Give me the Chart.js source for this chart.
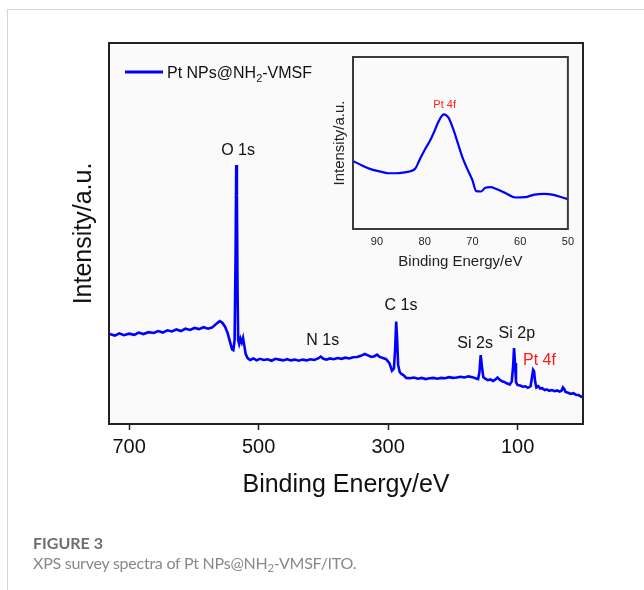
<!DOCTYPE html>
<html>
<head>
<meta charset="utf-8">
<script src="https://cdn.jsdelivr.net/npm/chart.js@4.4.1/dist/chart.umd.min.js"></script>
<style>
  body { margin: 0; background: #fff; width: 644px; height: 590px; overflow: hidden; position: relative; }
  #frame { position: absolute; left: 7px; top: 9px; width: 640px; height: 590px;
           border-top: 1.5px solid #d6d6d6; border-left: 1.5px solid #d6d6d6; }
  #main { position: absolute; left: 0; top: 0; }
  #inset { position: absolute; left: 320px; top: 50px; }
  #caption { position: absolute; left: 33px; top: 533px; font-family: Lato, "Open Sans", sans-serif;
             font-size: 16px; letter-spacing: -0.25px; line-height: 20px; color: #888; }
  #caption b { color: #6e6e6e; font-weight: 700; letter-spacing: 0; }
  #caption sub { font-size: 0.7em; vertical-align: -0.25em; line-height: 0; }
</style>
</head>
<body>
<div id="frame"></div>
<canvas id="main" width="644" height="590"></canvas>
<canvas id="inset" width="260" height="230"></canvas>
<div id="caption"><b>FIGURE 3</b><br>XPS survey spectra of Pt NPs@NH<sub>2</sub>-VMSF/ITO.</div>
<script>
// survey spectrum (binding energy in eV, intensity in a.u.)
const surveyEnergy = [
  730, 722, 715, 708, 700, 692, 685, 678, 670, 662, 655, 648, 641, 634, 627, 620, 613, 606, 599, 592,
  585, 578, 572, 566, 560, 556, 552, 548, 544, 541, 539, 537, 535.5, 534.5, 533.5, 532.5, 531.5, 530,
  528, 526, 524, 522, 520, 517, 513, 508, 503, 498, 492, 486, 480, 474, 468, 462, 456, 450, 444, 438,
  432, 426, 420, 414, 408, 404, 400, 395, 390, 384, 378, 372, 366, 360, 354, 348, 342, 336, 331, 326,
  321, 317, 313, 308, 303, 298, 294, 291, 289, 287.5, 286, 284.5, 282, 279, 276, 272, 266, 260, 254,
  248, 242, 236, 230, 224, 218, 212, 206, 200, 194, 188, 182, 176, 170, 165, 161, 159, 157, 155, 153,
  150, 146, 142, 138, 134, 131, 128, 124, 120, 116, 112, 109, 107, 105.5, 104, 102.5, 100, 96, 92, 88,
  84, 80, 78, 76, 74.5, 73, 71, 68, 65, 62, 58, 55, 51, 47, 43, 39, 35, 32, 30, 28, 26, 22, 18, 14,
  10, 6, 2, 0
];
const surveyIntensity = [
  23.6, 23.2, 23.8, 23.3, 23.7, 23.4, 24.0, 23.6, 24.1, 23.9, 24.4, 24.0, 24.6, 24.3, 24.8, 24.4, 25.0, 24.7, 25.2, 24.9,
  25.4, 25.0, 25.3, 26.2, 27.0, 26.6, 25.6, 24.0, 21.5, 19.6, 19.4, 22.0, 45.0, 68.0, 60.0, 35.0, 22.0, 21.0,
  22.4, 21.4, 22.6, 20.5, 18.4, 17.3, 16.8, 17.2, 16.7, 17.1, 16.8, 17.0, 16.6, 17.1, 16.9, 16.7, 17.0, 16.7, 16.9, 16.6,
  16.9, 16.7, 17.0, 16.8, 17.2, 17.7, 17.1, 16.9, 17.2, 17.0, 17.3, 17.1, 17.4, 17.2, 17.5, 17.6, 17.9, 18.4, 18.0, 17.6,
  17.8, 18.2, 17.6, 17.3, 17.0, 16.0, 14.0, 14.6, 20.0, 26.9, 22.0, 15.5, 13.6, 13.1, 12.8, 12.1, 12.0, 12.2, 11.9,
  12.1, 11.8, 12.0, 12.1, 11.9, 12.1, 12.0, 12.3, 12.1, 12.2, 12.4, 12.2, 12.5, 12.3, 12.0, 11.8, 13.5, 18.1, 15.0, 12.3,
  11.9, 11.5, 11.7, 11.3, 11.7, 12.2, 11.7, 11.2, 11.0, 10.6, 10.4, 11.2, 15.0, 19.9, 16.0, 11.0, 10.2, 10.1, 9.8, 9.9,
  9.5, 9.9, 12.0, 14.2, 13.8, 11.2, 9.6, 9.9, 9.3, 9.4, 8.9, 9.1, 8.7, 8.9, 8.6, 8.8, 8.5, 8.8, 9.6, 9.2, 8.4, 8.2, 7.9, 8.1,
  7.7, 7.6, 7.2, 7.1
];
const xTicks = [700, 500, 300, 100];

// peak labels (energy, intensity where the label sits)
const peakNames = ['O 1s', 'N 1s', 'C 1s', 'Si 2s', 'Si 2p', 'Pt 4f'];
const peakLabelEnergy = [531.7, 400.9, 280, 165.6, 101.2, 66.3];
const peakLabelIntensity = [71.7, 21.8, 31.0, 21.2, 23.8, 16.6];

// Pt 4f high resolution (inset)
const insetEnergy = [
  95, 93, 91, 89, 87.5, 86, 84.5, 83, 82, 81, 80, 78.8, 78, 77, 76, 75, 74, 73, 72, 71, 70,
  69.2, 68.2, 67.3, 66.2, 65, 63, 61, 59, 57, 55, 53, 51, 50
];
const insetIntensity = [
  39.5, 36.8, 34.5, 33.2, 32.4, 32.4, 32.8, 33.6, 35.0, 40.5, 45.9, 51.7, 56.5, 63.0, 66.7, 64.7, 58.0, 49.5, 41.0, 34.5, 28.5,
  22.0, 21.8, 24.0, 24.3, 23.3, 20.8, 18.3, 18.5, 20.0, 20.4, 19.8, 18.2, 17.4
];
const insetTicks = [90, 80, 70, 60, 50];
const insetLabelNames = ['Pt 4f'];
const insetLabelEnergy = [75.8];
const insetLabelIntensity = [72.1];

const FONT = "'Liberation Sans', Arial, sans-serif";
Chart.defaults.font.family = FONT;

// 背景と枠
function framePlugin(lineWidth, color) {
  return {
    id: 'frame',
    beforeDraw(chart) {
      const { ctx, chartArea: a } = chart;
      ctx.save();
      ctx.fillStyle = '#fafafa';
      ctx.fillRect(a.left, a.top, a.right - a.left, a.bottom - a.top);
      ctx.restore();
    },
    afterDatasetsDraw(chart) {
      const { ctx, chartArea: a } = chart;
      ctx.save();
      ctx.strokeStyle = color;
      ctx.lineWidth = lineWidth;
      ctx.strokeRect(a.left, a.top, a.right - a.left, a.bottom - a.top);
      ctx.restore();
    }
  };
}

// ピークラベル
function labelPlugin(names, energies, intensities, size) {
  return {
    id: 'peakLabels',
    afterDatasetsDraw(chart) {
      const { ctx, scales } = chart;
      ctx.save();
      ctx.font = `${size}px ${FONT}`;
      ctx.textAlign = 'center';
      ctx.textBaseline = 'middle';
      names.forEach((n, i) => {
        ctx.fillStyle = n.startsWith('Pt') ? '#ff1a1a' : '#111';
        ctx.fillText(n, scales.x.getPixelForValue(energies[i]), scales.y.getPixelForValue(intensities[i]));
      });
      ctx.restore();
    }
  };
}

// 凡例 (下付き文字つき)
const legendPlugin = {
  id: 'subLegend',
  afterDraw(chart) {
    const { ctx, chartArea: a } = chart;
    const ds = chart.data.datasets[0];
    const [before, after] = ds.label.split('₂');
    const x0 = a.left + 16, y0 = a.top + 29;
    ctx.save();
    ctx.strokeStyle = ds.borderColor;
    ctx.lineWidth = 3;
    ctx.beginPath();
    ctx.moveTo(x0, y0);
    ctx.lineTo(x0 + 38, y0);
    ctx.stroke();
    ctx.fillStyle = '#111';
    ctx.textBaseline = 'alphabetic';
    ctx.font = `16px ${FONT}`;
    let x = x0 + 42;
    ctx.fillText(before, x, y0 + 6);
    x += ctx.measureText(before).width;
    ctx.font = `11px ${FONT}`;
    ctx.fillText('2', x, y0 + 10);
    x += ctx.measureText('2').width;
    ctx.font = `16px ${FONT}`;
    ctx.fillText(after, x, y0 + 6);
    ctx.restore();
  }
};

new Chart(document.getElementById('main'), {
  type: 'line',
  data: {
    datasets: [{
      label: 'Pt NPs@NH₂-VMSF',
      data: surveyEnergy.map((e, i) => ({ x: e, y: surveyIntensity[i] })),
      borderColor: '#0000ff',
      borderWidth: 2.6,
      pointRadius: 0,
      tension: 0
    }]
  },
  options: {
    responsive: false,
    animation: false,
    layout: { padding: { top: 43, right: 61, left: 0, bottom: 0 } },
    plugins: { legend: { display: false }, tooltip: { enabled: false } },
    scales: {
      x: {
        type: 'linear', reverse: true, min: -1, max: 731,
        afterBuildTicks: s => { s.ticks = xTicks.map(v => ({ value: v })); },
        afterFit: s => { s.height = 166; },
        grid: { drawOnChartArea: false, drawTicks: true, tickLength: 6, tickColor: '#222', tickWidth: 1.5 },
        border: { display: false },
        ticks: { font: { size: 20 }, color: '#111', padding: 5, maxRotation: 0 },
        title: { display: true, text: 'Binding Energy/eV', font: { size: 25 }, color: '#111', padding: { top: 0, bottom: 90 } }
      },
      y: {
        min: 0, max: 100,
        afterFit: s => { s.width = 109; },
        ticks: { display: false },
        grid: { display: false, drawTicks: false },
        border: { display: false },
        title: { display: true, text: 'Intensity/a.u.', font: { size: 25 }, color: '#111', padding: { top: 69, bottom: 0 } }
      }
    }
  },
  plugins: [framePlugin(2, '#222'), labelPlugin(peakNames, peakLabelEnergy, peakLabelIntensity, 16), legendPlugin]
});

new Chart(document.getElementById('inset'), {
  type: 'line',
  data: {
    datasets: [{
      label: 'Pt 4f',
      data: insetEnergy.map((e, i) => ({ x: e, y: insetIntensity[i] })),
      borderColor: '#0000ff',
      borderWidth: 2.2,
      pointRadius: 0,
      cubicInterpolationMode: 'monotone'
    }]
  },
  options: {
    responsive: false,
    animation: false,
    layout: { padding: { top: 7, right: 11, left: 0, bottom: 0 } },
    plugins: { legend: { display: false }, tooltip: { enabled: false } },
    scales: {
      x: {
        type: 'linear', reverse: true, min: 50, max: 95,
        afterBuildTicks: s => { s.ticks = insetTicks.map(v => ({ value: v })); },
        afterFit: s => { s.height = 51; },
        grid: { display: false, drawTicks: false },
        border: { display: false },
        ticks: { font: { size: 11 }, color: '#222', padding: 6, maxRotation: 0 },
        title: { display: true, text: 'Binding Energy/eV', font: { size: 15 }, color: '#222', padding: { top: 0, bottom: 9 } }
      },
      y: {
        min: 0, max: 100,
        afterFit: s => { s.width = 33; },
        ticks: { display: false },
        grid: { display: false, drawTicks: false },
        border: { display: false },
        title: { display: true, text: 'Intensity/a.u.', font: { size: 15 }, color: '#222', padding: { top: 11, bottom: 0 } }
      }
    }
  },
  plugins: [framePlugin(2, '#3a3a3a'), labelPlugin(insetLabelNames, insetLabelEnergy, insetLabelIntensity, 11)]
});
</script>
</body>
</html>
